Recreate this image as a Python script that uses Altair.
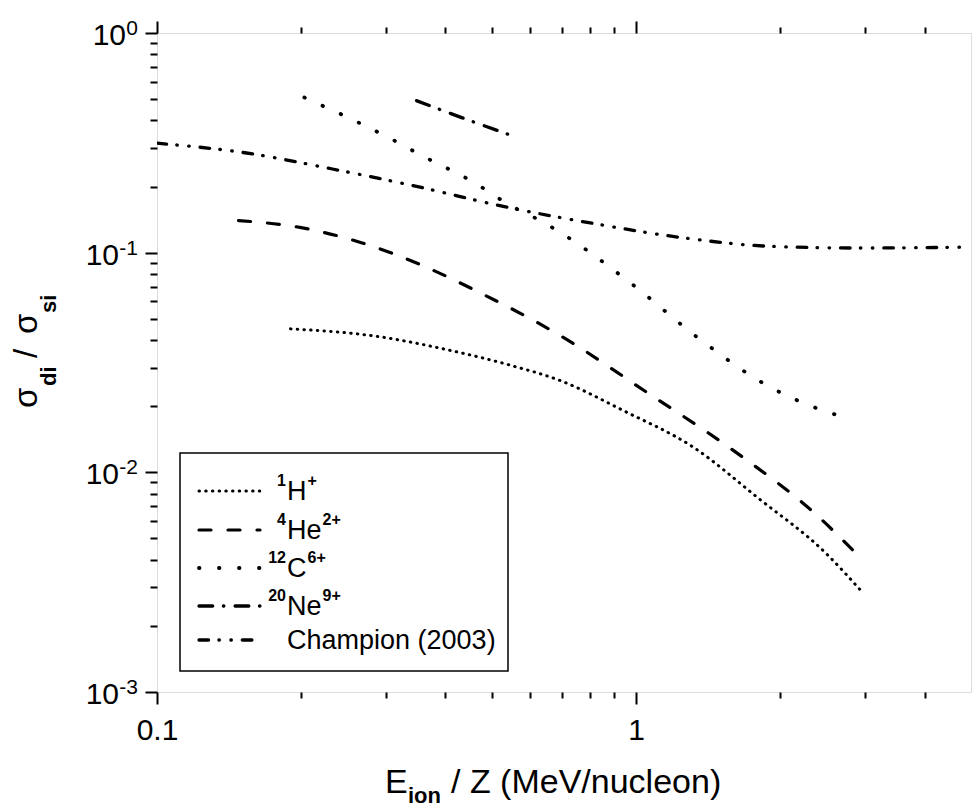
import altair as alt
import pandas as pd

# ---------------- data ----------------
series_names = ["H", "He", "C", "Ne", "Champion"]

h_x = [0.19, 0.29, 0.40, 0.55, 0.69, 0.95, 1.31, 1.80, 2.49, 2.96]
h_y = [0.045, 0.0415, 0.0363, 0.0306, 0.0263, 0.0189, 0.0131, 0.00762, 0.00428, 0.00286]

he_x = [0.148, 0.20, 0.267, 0.356, 0.46, 0.70, 1.06, 1.59, 2.40, 2.90]
he_y = [0.140, 0.130, 0.111, 0.0879, 0.0676, 0.0415, 0.0229, 0.01265, 0.00629, 0.0042]

c_x = [0.203, 0.306, 0.359, 0.46, 0.544, 0.638, 0.697, 0.975, 1.35, 1.88, 2.41, 2.63]
c_y = [0.509, 0.332, 0.275, 0.208, 0.165, 0.138, 0.123, 0.0726, 0.0408, 0.0248, 0.0194, 0.0182]

ne_x = [0.348, 0.431, 0.559]
ne_y = [0.492, 0.413, 0.337]

ch_x = [0.1, 0.1525, 0.231, 0.35, 0.531, 0.811, 1.249, 1.89, 2.91, 4.95]
ch_y = [0.315, 0.285, 0.241, 0.1997, 0.162, 0.136, 0.117, 0.107, 0.105, 0.106]

legend_mass = ["1", "4", "12", "20", ""]
legend_main = ["H", "He", "C", "Ne", "Champion (2003)"]
legend_charge = ["+", "2+", "6+", "9+", ""]

x_major = [0.1, 1]
x_minor = [0.2, 0.3, 0.4, 0.5, 0.6, 0.7, 0.8, 0.9, 2, 3, 4]
y_major = [1, 0.1, 0.01, 0.001]
y_exp = ["0", "-1", "-2", "-3"]
y_minor = [m * d for d in (0.001, 0.01, 0.1) for m in range(2, 10)]

# ---------------- tables ----------------
rows = []
for name, xs, ys in zip(series_names, [h_x, he_x, c_x, ne_x, ch_x], [h_y, he_y, c_y, ne_y, ch_y]):
    for i, (a, b) in enumerate(zip(xs, ys)):
        rows.append({"series": name, "x": a, "y": b, "i": i})
df = pd.DataFrame(rows)
ylab = pd.DataFrame({"v": y_major, "exp": y_exp})

# ---------------- styles ----------------
FONT = "Liberation Sans"
W, H = 814, 659
style = {
    "H": dict(dash=[0.5, 6.2], width=3.0),
    "He": dict(dash=[12, 17], width=3.2),
    "C": dict(dash=[0.5, 19.5], width=3.8),
    "Ne": dict(dash=[13.7, 10.65, 0.5, 11.25], width=3.3),
    "Champion": dict(dash=[9.6, 10.25, 0.5, 11.5, 0.5, 10.95], width=3.3),
}

xscale = alt.Scale(type="log", domain=[0.1, 5], nice=False)
yscale = alt.Scale(type="log", domain=[0.001, 1], nice=False)


def axis(orient, values, size, labels=False, **kw):
    return alt.Axis(orient=orient, values=values, tickSize=size, labels=labels, title=None,
                    grid=False, domain=False, tickColor="black", tickWidth=2, **kw)


layers = []
for k, name in enumerate(series_names):
    st = style[name]
    if k == 0:
        xa = axis("bottom", x_major, 12, labels=True,
                  labelExpr="datum.value < 0.5 ? '0.1' : '1'", labelFont=FONT,
                  labelFontSize=30, labelColor="black", labelPadding=11,
                  labelFlush=False, labelOverlap=False)
        ya = axis("left", y_major, 12)
    else:
        xa = None
        ya = None
    layers.append(
        alt.Chart(df).transform_filter(alt.datum.series == name)
        .mark_line(color="black", strokeCap="round", strokeDash=st["dash"],
                   strokeWidth=st["width"], interpolate="monotone", clip=True)
        .encode(x=alt.X("x:Q", scale=xscale, axis=xa),
                y=alt.Y("y:Q", scale=yscale, axis=ya),
                order="i:Q")
    )

# extra tick axes (minor ticks, mirrored top ticks)
layers.append(alt.Chart(df).mark_point(opacity=0).encode(
    x=alt.X("x:Q", scale=xscale, axis=axis("bottom", x_minor, 6)),
    y=alt.Y("y:Q", scale=yscale, axis=axis("left", y_minor, 7))))
layers.append(alt.Chart(df).mark_point(opacity=0).encode(
    x=alt.X("x:Q", scale=xscale, axis=axis("top", x_major, 12)),
    y=alt.Y("y:Q", scale=yscale, axis=None)))
layers.append(alt.Chart(df).mark_point(opacity=0).encode(
    x=alt.X("x:Q", scale=xscale, axis=axis("top", x_minor, 6)),
    y=alt.Y("y:Q", scale=yscale, axis=None)))

# y tick labels 10^k
layers.append(alt.Chart(ylab).mark_text(align="right", baseline="alphabetic", font=FONT,
                                        fontSize=21, dy=2, color="black")
              .encode(x=alt.value(-19), y=alt.Y("v:Q", scale=yscale, axis=None), text="exp:N"))
layers.append(alt.Chart(ylab).transform_filter(alt.datum.v == 1)
              .mark_text(align="right", baseline="alphabetic", font=FONT, fontSize=30, dy=12,
                         color="black", text="10")
              .encode(x=alt.value(-31), y=alt.Y("v:Q", scale=yscale, axis=None)))
layers.append(alt.Chart(ylab).transform_filter(alt.datum.v < 1)
              .mark_text(align="right", baseline="alphabetic", font=FONT, fontSize=30, dy=12,
                         color="black", text="10")
              .encode(x=alt.value(-38), y=alt.Y("v:Q", scale=yscale, axis=None)))


def label(text, x, y, size, weight="normal", align="left", angle=0):
    return alt.Chart(pd.DataFrame({"t": [text]})).mark_text(
        align=align, baseline="alphabetic", font=FONT, fontSize=size, fontWeight=weight,
        angle=angle, color="black").encode(x=alt.value(x), y=alt.value(y), text="t:N")


# x title
layers.append(label("E", 228, 760, 34))
layers.append(label("ion", 251, 770, 22, weight="bold"))
layers.append(label("/ Z (MeV/nucleon)", 294, 760, 34))

# y title (rotated)
layers.append(label("\u03c3", -120, 375, 33, angle=270))
layers.append(label("di", -101, 353, 22, weight="bold", angle=270))
layers.append(label("/", -120, 325, 33, angle=270))
layers.append(label("\u03c3", -120, 301, 33, angle=270))
layers.append(label("si", -101, 280, 22, weight="bold", angle=270))

# legend
layers.append(alt.Chart(pd.DataFrame({"a": [0]})).mark_rect(
    fillOpacity=0, stroke="black", strokeWidth=1.5).encode(
    x=alt.value(23), x2=alt.value(351), y=alt.value(420), y2=alt.value(638)))

char_w = {"H": 0.722, "e": 0.556, "C": 0.722, "N": 0.722}
row_y = [458, 497, 535, 573, 607]
for k, name in enumerate(series_names):
    st = style[name]
    yy = row_y[k]
    layers.append(alt.Chart(pd.DataFrame({"a": [0]})).mark_rule(
        color="black", strokeCap="round", strokeDash=st["dash"], strokeWidth=st["width"]).encode(
        x=alt.value(42), x2=alt.value(103), y=alt.value(yy)))
    layers.append(label(legend_main[k], 130, yy + 9, 27))
    if legend_mass[k]:
        layers.append(label(legend_mass[k], 129, yy - 5, 16, weight="bold", align="right"))
    if legend_charge[k]:
        wmain = sum(char_w.get(c, 0.556) for c in legend_main[k]) * 27
        layers.append(label(legend_charge[k], 131 + wmain, yy - 5, 16, weight="bold"))

chart = alt.layer(*layers).resolve_axis(x="independent", y="independent").properties(
    width=W, height=H,
    autosize=alt.AutoSizeParams(type="none"),
    padding={"left": 157, "top": 33, "right": 2, "bottom": 115},
).configure_view(stroke="black", strokeWidth=2).configure(background="white")

chart.save("out.html", embed_options={"renderer": "svg", "actions": False})
